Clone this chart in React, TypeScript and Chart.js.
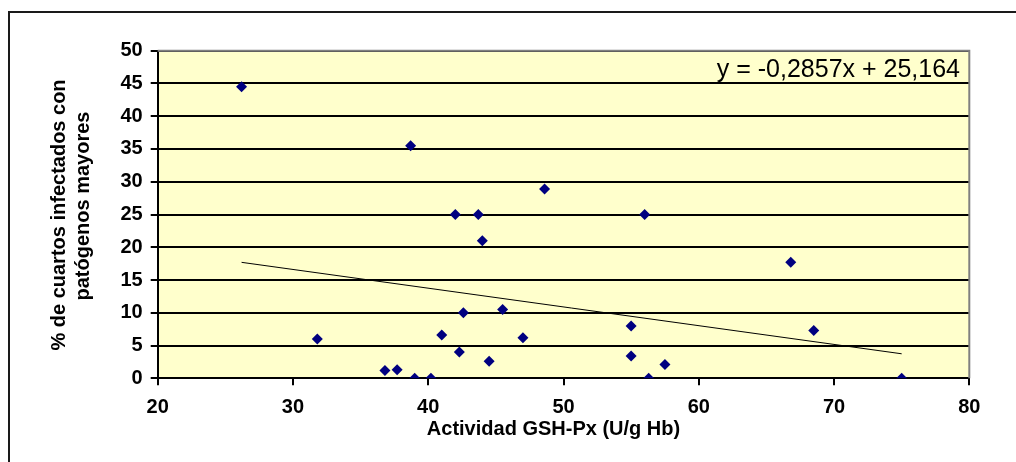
import React, { useEffect, useRef } from "react";
import { Chart, registerables } from "chart.js";

Chart.register(...registerables);

// ---- data ----
const xValues = [26.2, 38.7, 42.0, 43.7, 44.0, 42.6, 31.8, 41.0, 42.3, 44.5, 36.8, 37.7, 39.0, 40.2, 45.5, 48.6, 56.0, 66.8, 47.0, 55.0, 68.5, 55.0, 57.5, 56.3, 75.0];
const yValues = [44.5, 35.5, 25.0, 25.0, 21.0, 10.0, 6.0, 6.6, 4.0, 2.6, 1.2, 1.3, 0.0, 0.0, 10.5, 28.9, 25.0, 17.7, 6.2, 8.0, 7.3, 3.4, 2.1, 0.0, 0.0];
const trendX = [26.2, 75.0];
const trendY = [17.7, 3.74];
const xTicks = [20, 30, 40, 50, 60, 70, 80];
const yTicks = [0, 5, 10, 15, 20, 25, 30, 35, 40, 45, 50];
const equationLabel = "y = -0,2857x + 25,164";
const xTitle = "Actividad GSH-Px (U/g Hb)";
const yTitleLines = ["% de cuartos infectados con", "patógenos mayores"];

const FONT = "'Liberation Sans', Arial, sans-serif";

const decorPlugin = {
  id: "decor",
  beforeDraw(chart: any) {
    const { ctx, chartArea: a } = chart;
    ctx.save();
    ctx.fillStyle = "#ffffff";
    ctx.fillRect(0, 0, chart.width, chart.height);
    ctx.fillStyle = "#FFFFCC";
    ctx.fillRect(a.left, a.top, a.right - a.left, a.bottom - a.top);
    ctx.restore();
  },
  afterDraw(chart: any) {
    const { ctx, chartArea: a } = chart;
    ctx.save();
    // plot area border (top & right) gray
    ctx.strokeStyle = "#808080";
    ctx.lineWidth = 2;
    ctx.beginPath();
    ctx.moveTo(a.left, a.top);
    ctx.lineTo(a.right, a.top);
    ctx.lineTo(a.right, a.bottom);
    ctx.stroke();
    // outer frame
    ctx.strokeStyle = "#1a1a1a";
    ctx.lineWidth = 2;
    ctx.beginPath();
    ctx.moveTo(9, chart.height + 2);
    ctx.lineTo(9, 12);
    ctx.lineTo(chart.width + 2, 12);
    ctx.stroke();
    // equation
    ctx.fillStyle = "#000";
    ctx.font = `25px ${FONT}`;
    ctx.textAlign = "right";
    ctx.textBaseline = "alphabetic";
    ctx.fillText(equationLabel, 960, 77);
    // x title
    ctx.font = `bold 20px ${FONT}`;
    ctx.textAlign = "center";
    ctx.fillText(xTitle, (a.left + a.right) / 2 - 10, 435);
    // y title
    ctx.save();
    ctx.translate(65, 215);
    ctx.rotate(-Math.PI / 2);
    ctx.fillText(yTitleLines[0], 0, 0);
    ctx.restore();
    ctx.save();
    ctx.translate(89, 206);
    ctx.rotate(-Math.PI / 2);
    ctx.fillText(yTitleLines[1], 0, 0);
    ctx.restore();
    ctx.restore();
  },
};

export default function App() {
  const ref = useRef<HTMLCanvasElement | null>(null);
  useEffect(() => {
    if (!ref.current) return;
    const points = xValues.map((x, i) => ({ x, y: yValues[i] }));
    const trend = trendX.map((x, i) => ({ x, y: trendY[i] }));
    const chart = new Chart(ref.current, {
      type: "scatter",
      data: {
        datasets: [
          {
            type: "line",
            data: trend,
            borderColor: "#000",
            borderWidth: 1,
            pointRadius: 0,
            fill: false,
          } as any,
          {
            data: points,
            pointStyle: "rectRot",
            pointRadius: 5.5,
            backgroundColor: "#000080",
            borderColor: "#000080",
            borderWidth: 0,
          },
        ],
      },
      options: {
        responsive: false,
        animation: false,
        devicePixelRatio: 1,
        layout: { padding: { left: 0, top: 50.7, right: 46.7, bottom: 0 } },
        plugins: { legend: { display: false }, tooltip: { enabled: false } },
        scales: {
          x: {
            type: "linear",
            min: 20,
            max: 80,
            afterBuildTicks: (s: any) => {
              s.ticks = xTicks.map((v) => ({ value: v }));
            },
            afterFit: (s: any) => {
              s.height = 462 - 378.3;
            },
            grid: { drawOnChartArea: false, drawTicks: true, tickLength: 7, color: "#000", lineWidth: 2 },
            border: { display: true, color: "#000", width: 2 },
            ticks: { color: "#000", padding: 10, font: { family: FONT, size: 20, weight: "bold" }, maxRotation: 0, autoSkip: false },
          },
          y: {
            type: "linear",
            min: 0,
            max: 50,
            afterBuildTicks: (s: any) => {
              s.ticks = yTicks.map((v) => ({ value: v }));
            },
            afterFit: (s: any) => {
              s.width = 157.7;
            },
            grid: { drawOnChartArea: true, drawTicks: true, tickLength: 7, color: "#000", lineWidth: 2 },
            border: { display: true, color: "#000", width: 2 },
            ticks: { color: "#000", padding: 8, font: { family: FONT, size: 20, weight: "bold" }, autoSkip: false },
          },
        },
      },
      plugins: [decorPlugin],
    });
    return () => chart.destroy();
  }, []);
  return (
    <div style={{ position: "absolute", left: 0, top: 0, width: 1016, height: 462 }}>
      <canvas ref={ref} width={1016} height={462} style={{ display: "block", width: 1016, height: 462 }} />
    </div>
  );
}
